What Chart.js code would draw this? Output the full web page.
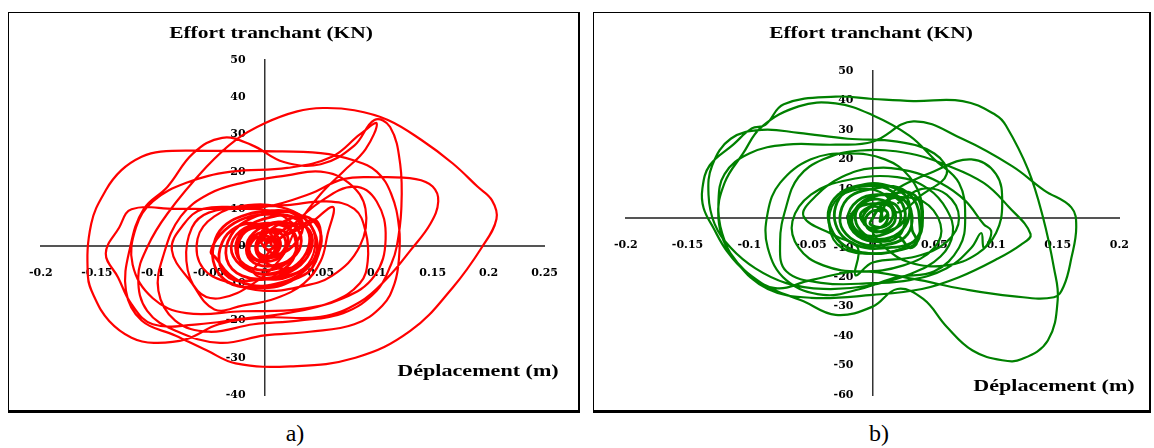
<!DOCTYPE html>
<html>
<head>
<meta charset="utf-8">
<script src="https://cdn.jsdelivr.net/npm/chart.js@4.4.1/dist/chart.umd.min.js"></script>
<style>
  body { margin:0; background:#fff; width:1154px; height:448px; position:relative; overflow:hidden; font-family:"Liberation Serif","Times New Roman",serif; }
  .panel { position:absolute; top:12px; height:401px; box-sizing:border-box; border:1px solid #000; border-right-width:2px; border-bottom-width:3px; }
  .panel canvas { position:absolute; left:0; top:0; }
  .lbl { position:absolute; font-weight:bold; color:#000; white-space:nowrap; transform:translate(-50%,-50%) scaleX(1.3); }
  .cap { position:absolute; font-size:24px; color:#000; transform:translate(-50%,-50%); }
</style>
</head>
<body>
<div class="panel" style="left:8px;width:572px"><canvas id="chartA" width="569" height="397"></canvas></div>
<div class="panel" style="left:593px;width:558px"><canvas id="chartB" width="555" height="397"></canvas></div>

<div class="lbl" style="left:271px;top:33px;font-size:16.5px">Effort tranchant (KN)</div>
<div class="lbl" style="left:871px;top:33px;font-size:16.5px">Effort tranchant (KN)</div>
<div class="lbl" style="left:478px;top:371px;font-size:17px">Déplacement (m)</div>
<div class="lbl" style="left:1054px;top:386px;font-size:17px">Déplacement (m)</div>
<div class="cap" style="left:295px;top:433px">a)</div>
<div class="cap" style="left:879px;top:433px">b)</div>

<script>
// tick values
const xTicksA = [-0.2, -0.15, -0.1, -0.05, 0, 0.05, 0.1, 0.15, 0.2, 0.25];
const yTicksA = [50, 40, 30, 20, 10, 0, -10, -20, -30, -40];
const xTicksB = [-0.2, -0.15, -0.1, -0.05, 0, 0.05, 0.1, 0.15, 0.2];
const yTicksB = [50, 40, 30, 20, 10, 0, -10, -20, -30, -40, -50, -60];

// [displacement (m), shear force (kN)]
// a) small cycles around the origin
const coreA = [
  [0, 0], [0.006, 2.5], [0.012, 1], [0.008, -2], [-0.002, -2.5], [-0.008, 0], [-0.002, 3], [0.01, 4.5],
  [0.02, 3], [0.018, -1.5], [0.006, -4], [-0.01, -3.5], [-0.016, 0.5], [-0.006, 4.5], [0.012, 6.5],
  [0.028, 5], [0.032, 0], [0.02, -4.5], [0.002, -6.5], [-0.018, -5], [-0.026, -0.5], [-0.018, 4.5],
  [0.002, 7.5], [0.024, 8], [0.038, 4.5], [0.04, -1.5], [0.028, -6], [0.006, -8.5], [-0.02, -8],
  [-0.034, -3.5], [-0.03, 3], [-0.012, 7.5], [0.01, 9], [0.03, 8.5], [0.044, 4], [0.046, -2],
  [0.034, -7], [0.012, -10], [-0.012, -10.5], [-0.032, -7.5], [-0.044, -3], [-0.048, -1.5], [-0.04, 3],
  [-0.022, 7], [0, 8.5], [0.022, 8], [0.036, 5.5], [0.04, 1], [0.032, -4], [0.016, -7], [-0.004, -7.5],
  [-0.022, -5], [-0.03, -0.5], [-0.022, 4], [-0.004, 6], [0.016, 5.5], [0.028, 2.5], [0.026, -2.5],
  [0.012, -5], [-0.006, -5], [-0.016, -2], [-0.012, 2], [0.002, 4], [0.016, 3], [0.018, -0.5],
  [0.008, -3], [-0.004, -2.5], [-0.006, 0.5], [0.004, 2], [0.01, 0.5], [0.004, -1], [0, 0],
  [0.015, 4], [0.03, 6], [0.042, 3], [0.038, -3], [0.022, -6], [0.004, -5], [-0.008, -1], [0.002, 3.5],
  [0.02, 7], [0.036, 8], [0.048, 5], [0.05, 0], [0.04, -5], [0.02, -8], [-0.005, -9], [-0.028, -9],
  [-0.04, -5], [-0.038, 1], [-0.026, 5], [-0.008, 6], [0.006, 3], [0.008, -2], [-0.004, -4], [-0.014, -1],
  [-0.006, 2.5], [0.004, 1],
  [0.03, 5], [0.045, 7], [0.05, 2], [0.042, -6], [0.026, -9], [0.008, -11], [-0.018, -11], [-0.036, -9],
  [-0.046, -4], [-0.044, 2], [-0.034, 6], [-0.016, 8.5], [0.006, 9.5], [0.024, 9], [0.034, 6], [0.028, 1],
  [0.014, -2], [0.002, -1], [-0.004, 3], [0.008, 6], [0.022, 5], [0.028, -1], [0.018, -6], [0, -7.5],
  [-0.016, -6], [-0.024, -2], [-0.02, 3], [-0.008, 5], [0.006, 4], [0.014, 1], [0.01, -2], [0, -3],
  [-0.008, -1], [-0.004, 2], [0.004, 2.5], [0.006, 0]
];
// a) large cycles
const loopsA = [
  [0.02, 3], [0.04, 6], [0.061, 10.5], [0.056, 3], [0.05, -4], [0.035, -10], [0.01, -14], [-0.02, -16],
  [-0.045, -17], [-0.065, -10], [-0.083, -1], [-0.072, 6], [-0.055, 10], [-0.02, 10.5], [0.02, 11], [0.055, 12],
  [0.08, 10], [0.09, 4], [0.092, -4], [0.085, -10], [0.06, -15], [0.02, -18], [-0.02, -19.5], [-0.06, -21],
  [-0.1, -21], [-0.119, -15.6], [-0.131, -8.4], [-0.142, -2], [-0.13, 5], [-0.119, 9.9], [-0.08, 10],
  [-0.04, 10], [0, 10.5], [0.04, 14], [0.07, 18],
  [0.1, 18.5], [0.135, 18], [0.15, 16], [0.155, 12], [0.148, 6], [0.13, -1.2], [0.11, -8.4], [0.085, -15],
  [0.05, -19], [0.0, -19.2], [-0.041, -21], [-0.07, -25], [-0.099, -26], [-0.119, -24.6], [-0.139, -20.1],
  [-0.152, -13.8], [-0.158, -8], [-0.155, 6], [-0.142, 15], [-0.128, 20.4], [-0.11, 24], [-0.093, 25.4],
  [-0.05, 25.6], [0.0, 25.5], [0.05, 25], [0.08, 23],
  [0.1, 20], [0.113, 14], [0.12, 5], [0.12, -3], [0.116, -10], [0.105, -16], [0.08, -21], [0.04, -23],
  [0.0, -24], [-0.04, -26], [-0.079, -22.8], [-0.105, -17.4], [-0.113, -8.4], [-0.105, -0.3], [-0.087, 8.7],
  [-0.052, 21.3], [-0.026, 28.5], [0.0, 33], [0.029, 36.2], [0.052, 37.1],
  [0.08, 36.5], [0.11, 33.9], [0.14, 28.5], [0.168, 22.2], [0.19, 16], [0.203, 12.3], [0.207, 7.3],
  [0.194, -0.3], [0.168, -11.1], [0.13, -22.8], [0.081, -30], [0.023, -32.3], [-0.026, -31.5], [-0.052, -28],
  [-0.08, -24], [-0.11, -20], [-0.124, -12], [-0.12, 0], [-0.108, 10], [-0.087, 15.9], [-0.064, 24.9],
  [-0.038, 29.1], [-0.012, 27.2], [0.017, 22.6], [0.05, 22], [0.08, 27], [0.098, 33.9],
  [0.112, 32], [0.121, 22], [0.122, 10], [0.118, 0], [0.113, -4.8], [0.1, -12], [0.07, -18], [0.03, -20],
  [-0.01, -21], [-0.05, -23], [-0.08, -20], [-0.095, -12], [-0.09, -2], [-0.075, 8], [-0.05, 14], [-0.02, 17],
  [0.02, 19], [0.05, 20], [0.075, 17], [0.09, 10], [0.085, 0], [0.06, -8], [0.03, -11], [0, -12],
  [-0.03, -10], [-0.055, -6], [-0.06, 2], [-0.045, 8], [-0.015, 11], [0.02, 10], [0.04, 6], [0.045, 0],
  [0.035, -6], [0.01, -9], [-0.01, -7], [0, -3],
  [0.02, 4], [0.05, 12], [0.08, 16], [0.1, 12], [0.108, 2], [0.098, -8], [0.07, -14], [0.03, -17],
  [-0.02, -17.5], [-0.07, -18], [-0.1, -14], [-0.118, -5], [-0.115, 5], [-0.1, 12], [-0.07, 17], [-0.03, 20],
  [0.02, 21], [0.06, 24], [0.085, 30], [0.1, 33],
  [0.09, 26], [0.07, 20], [0.05, 14], [0.03, 6], [0.015, -3], [-0.01, -10], [-0.04, -14], [-0.06, -12],
  [-0.07, -4], [-0.065, 5], [-0.05, 9], [-0.02, 10], [0.01, 9], [0.03, 5]
];

// b) small cycles around the origin
const coreB = [
  [0, 0], [0.005, 3], [0.012, 2], [0.01, -2], [0, -3.5], [-0.008, -1], [-0.004, 3], [0.008, 5.5], [0.02, 4],
  [0.022, -1.5], [0.012, -5], [-0.004, -6], [-0.016, -2.5], [-0.014, 3], [-0.002, 7], [0.016, 8], [0.028, 5],
  [0.032, -1], [0.026, -6.5], [0.01, -9], [-0.01, -8.5], [-0.024, -4], [-0.026, 2], [-0.018, 7.5], [0, 10],
  [0.02, 10.5], [0.034, 6], [0.038, -1], [0.036, -8], [0.02, -11], [0, -12], [-0.02, -10], [-0.032, -5],
  [-0.036, 2], [-0.028, 8], [-0.012, 11], [0.008, 11.5], [0.026, 8], [0.03, 2], [0.024, -4], [0.01, -7],
  [-0.008, -6], [-0.018, -2], [-0.014, 3], [0, 5], [0.014, 4], [0.016, 0], [0.008, -3], [-0.002, -2], [0, 0],
  [0.006, 4], [0.018, 7], [0.03, 4], [0.032, -4], [0.036, -8], [0.03, -10], [0.02, -6], [0.005, -8],
  [-0.012, -6], [-0.02, 0], [-0.012, 6], [0.004, 8], [0.022, 6], [0.026, 0], [0.015, -4], [0, -4],
  [-0.01, 1], [0, 4], [0.012, 2], [0.006, -1],
  [0.012, 6], [0.024, 9], [0.036, 7], [0.04, 1], [0.038, -6], [0.028, -9], [0.012, -10], [-0.006, -10],
  [-0.022, -7], [-0.03, -2], [-0.03, 4], [-0.022, 9], [-0.006, 11], [0.012, 10], [0.024, 5], [0.026, -2],
  [0.018, -7], [0.004, -7.5], [-0.01, -4], [-0.014, 1], [-0.008, 5], [0.004, 6.5], [0.016, 4], [0.018, -1],
  [0.01, -4], [0.0, -4.5], [-0.006, -1.5], [-0.002, 2], [0.006, 2.5], [0.008, 0]
];
// b) large cycles
const loopsB = [
  [0.02, 5], [0.04, 10], [0.06, 8], [0.07, 0], [0.06, -8], [0.035, -13], [0.0, -15], [-0.014, -19.3],
  [-0.012, -10], [-0.03, -6], [-0.056, 0.7], [-0.045, 8], [-0.025, 14], [0.0, 17], [0.03, 16], [0.055, 12],
  [0.075, 6], [0.09, -2], [0.096, -4.2], [0.094, -8], [0.09, -10], [0.088, -5], [0.08, -10], [0.06, -17],
  [0.03, -21], [0.0, -22], [-0.04, -22], [-0.07, -18], [-0.075, -8], [-0.07, 4], [-0.06, 14], [-0.04, 20],
  [-0.01, 23], [0.03, 22], [0.06, 18],
  [0.09, 12], [0.11, 4], [0.128, -5.4], [0.12, -9], [0.1, -14], [0.07, -20], [0.04, -24], [0.0, -26],
  [-0.05, -27], [-0.085, -24], [-0.11, -15], [-0.122, -5], [-0.125, 5], [-0.12, 15], [-0.1, 22], [-0.07, 25],
  [-0.03, 25], [0.0, 26], [0.033, 32.9],
  [0.073, 26.9], [0.113, 17.7], [0.139, 9.5], [0.161, 3.7], [0.165, -3], [0.161, -13.6], [0.155, -22.9],
  [0.147, -26.8], [0.113, -26.4], [0.073, -24], [0.033, -20.6], [-0.01, -18], [-0.05, -21], [-0.079, -23.7],
  [-0.103, -18], [-0.118, -11.2], [-0.129, -3.3], [-0.137, 3.5], [-0.138, 10], [-0.132, 18], [-0.113, 25],
  [-0.098, 30.5], [-0.087, 31.7], [-0.072, 38.7], [-0.03, 41.3], [0.0, 40.5], [0.033, 39.8], [0.073, 39.8],
  [0.1, 35], [0.108, 31.5], [0.126, 16.5], [0.138, 0.4], [0.147, -17], [0.15, -27.5], [0.142, -41.5],
  [0.121, -47.8], [0.105, -48.2], [0.081, -44.9], [0.06, -36.8], [0.041, -27.4], [0.02, -24], [0.0, -30],
  [-0.03, -32.8], [-0.056, -28.2], [-0.09, -22], [-0.115, -12], [-0.125, 0], [-0.12, 12], [-0.105, 22],
  [-0.09, 31], [-0.06, 38], [-0.03, 39], [0.0, 35], [0.03, 28], [0.05, 20],
  [0.07, 12], [0.075, 0], [0.07, -10], [0.05, -18], [0.02, -20], [-0.01, -24], [-0.04, -26], [-0.07, -21],
  [-0.085, -10], [-0.085, 2], [-0.075, 12], [-0.05, 20], [-0.02, 22], [0.01, 20], [0.03, 14],
  [0.04, 5], [0.038, -5], [0.025, -10], [0, -12], [-0.025, -10], [-0.035, -3], [-0.03, 6], [-0.01, 10],
  [0.01, 8], [0.02, 2],
  [0.04, 8], [0.06, 15], [0.05, 22], [0.02, 26], [-0.02, 27], [-0.06, 29], [-0.09, 30], [-0.115, 27],
  [-0.13, 18], [-0.133, 8], [-0.128, -2], [-0.115, -10], [-0.095, -17], [-0.07, -22], [-0.04, -24],
  [-0.005, -23], [0.03, -19], [0.055, -13], [0.065, -5], [0.06, 3],
  [0.045, 10], [0.02, 14], [-0.02, 13], [-0.05, 8], [-0.065, -1], [-0.06, -10], [-0.04, -16], [-0.01, -18],
  [0.025, -16], [0.05, -10], [0.055, -2], [0.04, 6], [0.015, 8],
  [0.05, 16], [0.08, 20], [0.1, 15], [0.105, 5], [0.1, -5], [0.085, -12], [0.06, -16], [0.03, -15],
  [0.01, -10], [0, -5]
];

const tickFont = { family: 'DejaVu Serif', weight: 'bold', size: 11 };
// gap between the vertical axis and its labels
const yLabelGap = '\u00a0\u00a0\u00a0\u00a0\u00a0';

function toPoints(arr) {
  return arr.map(function(p){ return { x: p[0], y: p[1] }; });
}

function loopChart(id, color, core, loops, xTicks, yTicks, pad, gap) {
  const ctx = document.getElementById(id);
  new Chart(ctx, {
    type: 'scatter',
    data: {
      datasets: [
        { data: toPoints(core), showLine: true, borderColor: color, borderWidth: 2.8, pointRadius: 0, tension: 0.4 },
        { data: toPoints(loops), showLine: true, borderColor: color, borderWidth: 2.2, pointRadius: 0, tension: 0.4 }
      ]
    },
    options: {
      responsive: false,
      animation: false,
      layout: { autoPadding: false, padding: pad },
      plugins: { legend: { display: false }, tooltip: { enabled: false } },
      scales: {
        x: {
          type: 'linear',
          position: { y: 0 },
          min: xTicks[0],
          max: xTicks[xTicks.length - 1],
          afterBuildTicks: function(scale){ scale.ticks = xTicks.map(function(v){ return { value: v }; }); },
          grid: { drawOnChartArea: false, drawTicks: false },
          border: { display: true, color: '#555', width: 2 },
          ticks: {
            padding: 20,
            color: '#000',
            font: tickFont,
            maxRotation: 0,
            autoSkip: false,
            callback: function(v){ return String(+v.toFixed(2)); }
          }
        },
        y: {
          type: 'linear',
          position: { x: 0 },
          min: yTicks[yTicks.length - 1],
          max: yTicks[0],
          afterBuildTicks: function(scale){ scale.ticks = yTicks.map(function(v){ return { value: v }; }); },
          grid: { drawOnChartArea: false, drawTicks: false },
          border: { display: true, color: '#333', width: 1.5 },
          ticks: {
            color: '#000',
            font: tickFont,
            autoSkip: false,
            callback: function(v){ return String(v) + gap; }
          }
        }
      }
    }
  });
}

loopChart('chartA', '#ff0000', coreA, loopsA, xTicksA, yTicksA, { left: 27, right: 22, top: 47, bottom: 15 }, yLabelGap);
loopChart('chartB', '#008000', coreB, loopsB, xTicksB, yTicksB, { left: 25, right: 14, top: 58, bottom: 15 }, yLabelGap);
</script>
</body>
</html>
